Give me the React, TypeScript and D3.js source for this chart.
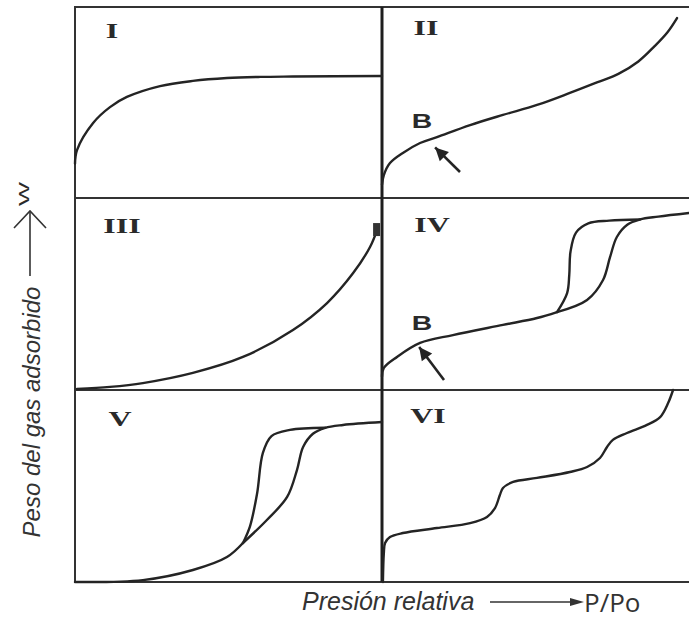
import React from "react";
import * as d3 from "d3";

// Six classic adsorption isotherm types (IUPAC I–VI).
// Every point is [relative pressure P/Po, adsorbed amount W], both normalised to 0–1 per panel.
const panelNames = ["I", "II", "III", "IV", "V", "VI"];

const typeI: [number, number][] = [
  [0, 0.18], [0.0065, 0.251], [0.059, 0.393], [0.114, 0.476], [0.169, 0.529],
  [0.277, 0.586], [0.384, 0.613], [0.495, 0.628], [0.603, 0.634], [0.71, 0.636], [1.0, 0.639],
];

const typeII: [number, number][] = [
  [0, 0.07], [0.006, 0.12], [0.026, 0.183], [0.068, 0.236], [0.124, 0.288], [0.179, 0.319],
  [0.287, 0.382], [0.394, 0.435], [0.505, 0.487], [0.612, 0.55], [0.7, 0.605],
  [0.77, 0.65], [0.835, 0.715], [0.888, 0.795], [0.93, 0.868], [0.961, 0.942],
];

const typeIII: [number, number][] = [
  [0.0065, 0.005], [0.114, 0.016], [0.221, 0.036], [0.384, 0.089], [0.547, 0.172],
  [0.71, 0.3125], [0.821, 0.453], [0.906, 0.609], [0.961, 0.745], [0.984, 0.833],
];

const typeIVShared: [number, number][] = [
  [0, 0.07], [0.006, 0.115], [0.049, 0.172], [0.124, 0.245], [0.231, 0.286],
  [0.394, 0.339], [0.505, 0.375], [0.57, 0.406],
];
const typeIVAdsorption: [number, number][] = [
  [0.57, 0.406], [0.668, 0.469], [0.72, 0.573], [0.743, 0.693], [0.765, 0.797],
  [0.8, 0.862], [0.84, 0.888], [0.9, 0.903], [1.0, 0.922],
];
const typeIVDesorption: [number, number][] = [
  [0.57, 0.406], [0.603, 0.505], [0.61, 0.6], [0.614, 0.72], [0.632, 0.82], [0.672, 0.868],
  [0.74, 0.882], [0.84, 0.888],
];

const typeVShared: [number, number][] = [
  [0, 0], [0.221, 0.01], [0.384, 0.0625], [0.495, 0.13], [0.547, 0.203],
];
const typeVAdsorption: [number, number][] = [
  [0.547, 0.203], [0.625, 0.323], [0.691, 0.443], [0.723, 0.583], [0.743, 0.703],
  [0.775, 0.772], [0.815, 0.803], [0.873, 0.818], [1.0, 0.833],
];
const typeVDesorption: [number, number][] = [
  [0.547, 0.203], [0.57, 0.29], [0.593, 0.46], [0.612, 0.672], [0.64, 0.76],
  [0.7, 0.792], [0.815, 0.803],
];

const typeVI: [number, number][] = [
  [0.003, 0.0], [0.006, 0.15], [0.01, 0.203], [0.026, 0.234], [0.068, 0.255], [0.179, 0.281],
  [0.287, 0.307], [0.342, 0.339], [0.368, 0.385], [0.384, 0.453], [0.394, 0.49],
  [0.427, 0.521], [0.505, 0.542], [0.612, 0.573], [0.668, 0.599], [0.71, 0.646],
  [0.733, 0.703], [0.752, 0.74], [0.798, 0.776], [0.863, 0.818], [0.906, 0.859],
  [0.932, 0.932], [0.948, 1.0],
];

const panelCurves: [number, number][][][] = [
  [typeI],
  [typeII],
  [typeIII],
  [typeIVShared, typeIVAdsorption, typeIVDesorption],
  [typeVShared, typeVAdsorption, typeVDesorption],
  [typeVI],
];

// Point B (onset of multilayer adsorption) on types II and IV: label spot, arrow tip, arrow tail
const pointBPanels = [1, 3];
const pointBLabel: [number, number][] = [[0.13, 0.405], [0.13, 0.35]];
const pointBTip: [number, number][] = [[0.173, 0.265], [0.121, 0.224]];
const pointBTail: [number, number][] = [[0.254, 0.136], [0.202, 0.052]];

// Numeral placement inside each panel (px from the panel's top-left corner)
const numeralOffset: [number, number][] = [[37, 24], [44, 21], [47, 28], [50, 27], [45, 29], [46, 26]];

const yTitle = "Peso del gas adsorbido";
const yUnit = "W";
const xTitle = "Presión relativa";
const xUnit = "P/Po";

// Grid geometry
const left = 75;
const mid = 382;
const right = 689;
const rowEdges = [7, 198, 390, 582];
const ink = "#242424";

function arrowHead(tip: [number, number], tail: [number, number], len: number, half: number) {
  const dx = tip[0] - tail[0];
  const dy = tip[1] - tail[1];
  const d = Math.hypot(dx, dy);
  const ux = dx / d, uy = dy / d;
  const bx = tip[0] - ux * len, by = tip[1] - uy * len;
  return `${tip[0]},${tip[1]} ${bx - uy * half},${by + ux * half} ${bx + uy * half},${by - ux * half}`;
}

export default function App() {
  const panels = panelNames.map((name, i) => {
    const col = i % 2;
    const row = Math.floor(i / 2);
    const x0 = col === 0 ? left : mid;
    // both columns share the same P/Po span; the right one runs to the page edge
    const x = d3.scaleLinear().domain([0, 1]).range([x0, x0 + (mid - left)]);
    const y = d3.scaleLinear().domain([0, 1]).range([rowEdges[row + 1], rowEdges[row]]);
    return { name, i, x, y, x0, top: rowEdges[row] };
  });

  return (
    <svg
      width={689}
      height={622}
      style={{ position: "absolute", left: 0, top: 0, background: "#fff" }}
    >
      {/* frame */}
      <g stroke="#333" fill="none">
        {rowEdges.map((yy) => (
          <line key={yy} x1={left - 1} x2={right} y1={yy} y2={yy} strokeWidth={2} />
        ))}
        <line x1={left} x2={left} y1={rowEdges[0]} y2={rowEdges[3]} strokeWidth={2} />
        <line x1={mid} x2={mid} y1={rowEdges[0]} y2={rowEdges[3]} strokeWidth={3} stroke="#1e1e1e" />
      </g>

      {panels.map((p) => {
        const line = d3
          .line<[number, number]>()
          .x((d) => p.x(d[0]))
          .y((d) => p.y(d[1]))
          .curve(d3.curveCatmullRom.alpha(0.5));
        const off = numeralOffset[p.i];
        return (
          <g key={p.name}>
            {panelCurves[p.i].map((c, k) => (
              <path key={k} d={line(c) || ""} fill="none" stroke={ink} strokeWidth={2.4} strokeLinecap="round" />
            ))}
            <text
              transform={`translate(${p.x0 + off[0]},${p.top + off[1]}) scale(1.6,1)`}
              textAnchor="middle"
              dy="0.36em"
              fontFamily="Liberation Serif"
              fontWeight="bold"
              fontSize={20}
              fill="#2a2a2a"
            >
              {p.name}
            </text>
          </g>
        );
      })}

      {/* end cap of the type III branch */}
      {(() => {
        const p = panels[2];
        const end = typeIII[typeIII.length - 1];
        return <rect x={p.x(end[0]) - 4} y={p.y(end[1]) - 7} width={7} height={13} fill="#333" />;
      })()}

      {/* point B annotations */}
      {pointBPanels.map((pi, k) => {
        const p = panels[pi];
        const tip: [number, number] = [p.x(pointBTip[k][0]), p.y(pointBTip[k][1])];
        const tail: [number, number] = [p.x(pointBTail[k][0]), p.y(pointBTail[k][1])];
        return (
          <g key={pi}>
            <text
              transform={`translate(${p.x(pointBLabel[k][0])},${p.y(pointBLabel[k][1])}) scale(1.35,1)`}
              textAnchor="middle"
              dy="0.36em"
              fontFamily="Liberation Sans"
              fontWeight="bold"
              fontSize={21}
              fill="#2a2a2a"
            >
              B
            </text>
            <line x1={tail[0]} y1={tail[1]} x2={tip[0]} y2={tip[1]} stroke={ink} strokeWidth={2.6} />
            <polygon points={arrowHead(tip, tail, 13, 6.5)} fill={ink} />
          </g>
        );
      })}

      {/* y title */}
      <text
        transform="translate(40,412) rotate(-90)"
        textAnchor="middle"
        fontFamily="Liberation Sans"
        fontStyle="italic"
        fontSize={24}
        fill="#333"
      >
        {yTitle}
      </text>
      <line x1={30} x2={30} y1={276} y2={211} stroke="#333" strokeWidth={1.6} />
      <polyline points="14,228 30,211 46,228" fill="none" stroke="#333" strokeWidth={1.6} />
      <text
        transform="translate(29,194) rotate(-90) scale(1.7,1)"
        textAnchor="middle"
        fontFamily="Liberation Sans"
        fontSize={15}
        fill="#2a2a2a"
      >
        {yUnit}
      </text>

      {/* x title */}
      <text x={302} y={610} fontFamily="Liberation Sans" fontStyle="italic" fontSize={25} fill="#333">
        {xTitle}
      </text>
      <line x1={490} x2={572} y1={602} y2={602} stroke="#333" strokeWidth={1.6} />
      <polygon points={arrowHead([584, 602], [490, 602], 14, 4)} fill="#333" />
      <text x={584} y={612} fontFamily="Open Sans" fontSize={26} fill="#333">
        {xUnit}
      </text>
    </svg>
  );
}
